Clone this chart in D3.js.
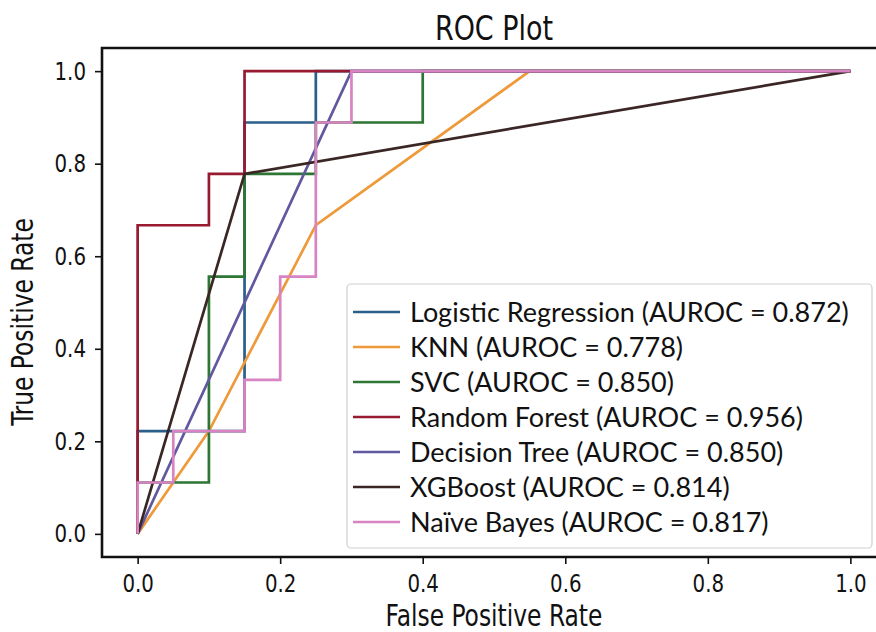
<!DOCTYPE html>
<html>
<head>
<meta charset="utf-8">
<script src="https://cdn.jsdelivr.net/npm/d3@7"></script>
<style>
  body { margin: 0; background: #ffffff; }
  text { fill: #111; }
</style>
</head>
<body>
<svg id="chart" width="876" height="632"></svg>
<script>
// ROC curves of seven classifiers (false positive rate vs. true positive rate)
const modelNames = ["Logistic Regression", "KNN", "SVC", "Random Forest", "Decision Tree", "XGBoost", "Naïve Bayes"];
const aurocValues = ["0.872", "0.778", "0.850", "0.956", "0.850", "0.814", "0.817"];
const seriesColors = ["#2a5f8c", "#ee9a3a", "#2d7633", "#971a30", "#61599f", "#3b2626", "#d884c2"];

const logisticFpr = [0, 0, 0.15, 0.15, 0.25, 0.25, 1];
const logisticTpr = [0, 0.222, 0.222, 0.889, 0.889, 1, 1];
const knnFpr = [0, 0.1, 0.25, 0.55, 1];
const knnTpr = [0, 0.222, 0.667, 1, 1];
const svcFpr = [0, 0, 0.1, 0.1, 0.15, 0.15, 0.25, 0.25, 0.4, 0.4, 1];
const svcTpr = [0, 0.111, 0.111, 0.556, 0.556, 0.778, 0.778, 0.889, 0.889, 1, 1];
const forestFpr = [0, 0, 0.1, 0.1, 0.15, 0.15, 1];
const forestTpr = [0, 0.667, 0.667, 0.778, 0.778, 1, 1];
const treeFpr = [0, 0.3, 1];
const treeTpr = [0, 1, 1];
const xgbFpr = [0, 0.15, 1];
const xgbTpr = [0, 0.778, 1];
const bayesFpr = [0, 0, 0.05, 0.05, 0.15, 0.15, 0.2, 0.2, 0.25, 0.25, 0.3, 0.3, 1];
const bayesTpr = [0, 0.111, 0.111, 0.222, 0.222, 0.333, 0.333, 0.556, 0.556, 0.889, 0.889, 1, 1];

const fprSeries = [logisticFpr, knnFpr, svcFpr, forestFpr, treeFpr, xgbFpr, bayesFpr];
const tprSeries = [logisticTpr, knnTpr, svcTpr, forestTpr, treeTpr, xgbTpr, bayesTpr];

const xTickValues = [0, 0.2, 0.4, 0.6, 0.8, 1.0];
const yTickValues = [0, 0.2, 0.4, 0.6, 0.8, 1.0];

const svg = d3.select("#chart");
const plot = { left: 102, right: 886, top: 48, bottom: 557 };
const tickFont = "'DejaVu Sans Condensed', 'DejaVu Sans', sans-serif";
const legendFont = "Lato, 'Open Sans', sans-serif";
const tall = 1.14; // glyphs are drawn slightly taller than wide

const x = d3.scaleLinear().domain([-0.05, 1.05]).range([plot.left, plot.right]);
const y = d3.scaleLinear().domain([-0.05, 1.05]).range([plot.bottom, plot.top]);

// curves
const line = d3.line().x(d => x(d[0])).y(d => y(d[1]));
const curves = svg.append("g").attr("fill", "none").attr("stroke-width", 2.7)
  .attr("stroke-linejoin", "miter");
modelNames.forEach((name, i) => {
  const pts = fprSeries[i].map((f, j) => [f, tprSeries[i][j]]);
  curves.append("path")
    .attr("d", line(pts))
    .attr("stroke", seriesColors[i]);
});

// axes
const xAxis = d3.axisBottom(x).tickValues(xTickValues).tickFormat(d3.format(".1f"))
  .tickSizeOuter(0).tickSizeInner(7).tickPadding(8);
const yAxis = d3.axisLeft(y).tickValues(yTickValues).tickFormat(d3.format(".1f"))
  .tickSizeOuter(0).tickSizeInner(7).tickPadding(9);

const gx = svg.append("g").attr("transform", `translate(0,${plot.bottom})`).call(xAxis);
const gy = svg.append("g").attr("transform", `translate(${plot.left},0)`).call(yAxis);
[gx, gy].forEach(g => {
  g.select(".domain").remove();
  g.selectAll(".tick line").attr("stroke", "#111").attr("stroke-width", 1.6);
  g.selectAll(".tick text").attr("font-family", tickFont).attr("font-size", 22)
    .attr("fill", "#111").attr("transform", `scale(1,${tall})`);
});

// frame (right edge falls outside the canvas)
svg.append("path")
  .attr("d", `M${plot.right},${plot.top}H${plot.left}V${plot.bottom}H${plot.right}`)
  .attr("fill", "none").attr("stroke", "#111").attr("stroke-width", 2.6);

// titles
function label(tx, ty, rot, size, str) {
  svg.append("g").attr("transform", `translate(${tx},${ty}) rotate(${rot}) scale(1,${tall})`)
    .append("text").attr("text-anchor", "middle").attr("font-family", tickFont)
    .attr("font-size", size).text(str);
}
label((plot.left + plot.right) / 2, 40, 0, 30, "ROC Plot");
label((plot.left + plot.right) / 2, 626, 0, 26, "False Positive Rate");
label(33, 322, -90, 26, "True Positive Rate");

// legend
const legend = { x: 347, y: 284, w: 525, h: 264, row: 35 };
svg.append("rect").attr("x", legend.x).attr("y", legend.y).attr("width", legend.w).attr("height", legend.h)
  .attr("rx", 4).attr("fill", "#ffffff").attr("fill-opacity", 0.85)
  .attr("stroke", "#cfcfcf").attr("stroke-width", 1.2);
const rows = svg.append("g").selectAll("g").data(modelNames).join("g")
  .attr("transform", (d, i) => `translate(${legend.x},${legend.y + 28 + i * legend.row})`);
rows.append("line").attr("x1", 6).attr("x2", 53).attr("y1", 0).attr("y2", 0)
  .attr("stroke", (d, i) => seriesColors[i]).attr("stroke-width", 2.7);
rows.append("text").attr("x", 63).attr("y", 0).attr("dy", "0.36em")
  .attr("font-family", legendFont).attr("font-size", 27)
  .text((d, i) => `${d} (AUROC = ${aurocValues[i]})`);
</script>
</body>
</html>
